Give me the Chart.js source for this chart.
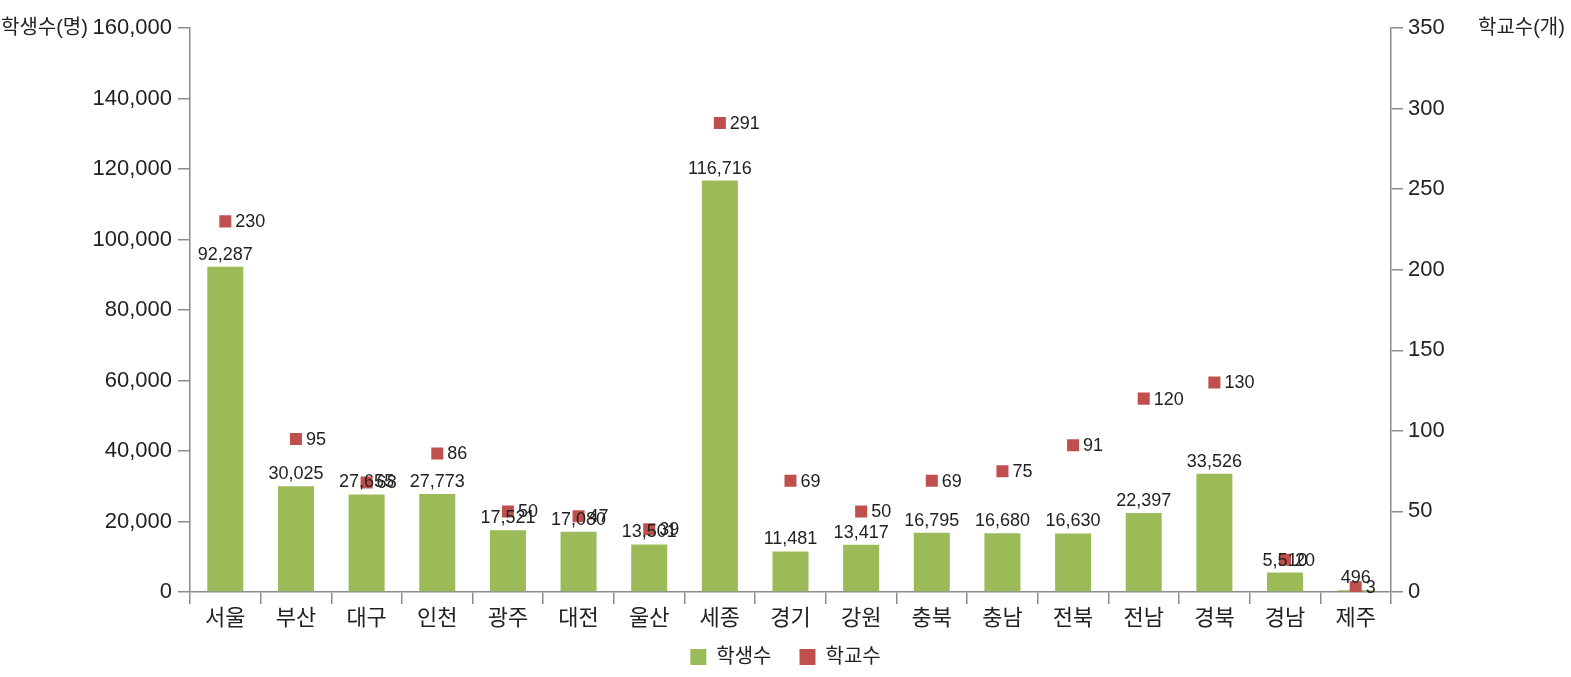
<!DOCTYPE html>
<html>
<head>
<meta charset="utf-8">
<script src="https://cdn.jsdelivr.net/npm/chart.js@4.4.1/dist/chart.umd.min.js"></script>
<style>
  html, body { margin: 0; background: #fff; }
  #wrap { width: 1571px; height: 677px; }
</style>
</head>
<body>
<div id="wrap"><canvas id="chart"></canvas></div>
<script>
const regions = ['서울', '부산', '대구', '인천', '광주', '대전', '울산', '세종', '경기', '강원', '충북', '충남', '전북', '전남', '경북', '경남', '제주'];
const students = [92287, 30025, 27655, 27773, 17521, 17080, 13501, 116716, 11481, 13417, 16795, 16680, 16630, 22397, 33526, 5510, 496];
const schools = [230, 95, 68, 86, 50, 47, 39, 291, 69, 50, 69, 75, 91, 120, 130, 20, 3];

const FONT = "'Liberation Sans', 'Noto Sans CJK KR', sans-serif";
const AXIS = '#8c8c8c';
const TEXT = '#222';

const labelPlugin = {
  id: 'labels',
  afterDatasetsDraw(chart) {
    const ctx = chart.ctx;
    ctx.save();
    ctx.fillStyle = TEXT;
    ctx.font = '18px ' + FONT;

    // 학생수 labels above the bars
    ctx.textAlign = 'center';
    ctx.textBaseline = 'bottom';
    chart.getDatasetMeta(0).data.forEach((bar, i) => {
      ctx.fillText(students[i].toLocaleString('en-US'), bar.x, bar.y - 3);
    });

    // 학교수 labels right of the squares
    ctx.textAlign = 'left';
    ctx.textBaseline = 'middle';
    chart.getDatasetMeta(1).data.forEach((pt, i) => {
      ctx.fillText(String(schools[i]), pt.x + 10, pt.y + 1);
    });

    // axis titles
    const y = chart.scales.y, y1 = chart.scales.y1;
    ctx.font = '20px ' + FONT;
    ctx.fillText('학생수(명)', 1, y.top);
    ctx.fillText('학교수(개)', y1.left + 87, y1.top);
    ctx.restore();
  }
};

new Chart(document.getElementById('chart'), {
  data: {
    labels: regions,
    datasets: [
      {
        type: 'bar',
        label: '학생수',
        data: students,
        yAxisID: 'y',
        backgroundColor: '#9bbb59',
        categoryPercentage: 1,
        barPercentage: 0.51,
        order: 2
      },
      {
        type: 'line',
        label: '학교수',
        data: schools,
        yAxisID: 'y1',
        showLine: false,
        pointStyle: 'rect',
        pointRadius: 8.5,
        pointHoverRadius: 8.5,
        backgroundColor: '#c0504d',
        borderColor: '#c0504d',
        borderWidth: 0,
        order: 1
      }
    ]
  },
  options: {
    responsive: true,
    maintainAspectRatio: false,
    animation: false,
    locale: 'en-US',
    layout: { padding: { top: 28, bottom: 0, left: 0, right: 0 } },
    plugins: {
      tooltip: { enabled: false },
      legend: {
        position: 'bottom',
        labels: {
          color: TEXT,
          font: { family: FONT, size: 20 },
          boxWidth: 16,
          boxHeight: 16,
          padding: 3,
          sort: (a, b) => a.datasetIndex - b.datasetIndex,
          generateLabels(chart) {
            const items = Chart.defaults.plugins.legend.labels.generateLabels(chart);
            // wider gap after the first entry, as in the original
            items.forEach((it) => { if (it.datasetIndex === 0) it.text += '\u2003\u2005'; });
            return items;
          }
        }
      }
    },
    scales: {
      x: {
        offset: true,
        grid: { display: true, drawOnChartArea: false, offset: true, tickLength: 12, color: AXIS, lineWidth: 1.5 },
        border: { color: AXIS, width: 1.5 },
        ticks: { color: TEXT, font: { family: FONT, size: 22 }, padding: 2, maxRotation: 0 },
        afterFit(scale) { scale.height = 52; }
      },
      y: {
        position: 'left',
        min: 0,
        max: 160000,
        ticks: { stepSize: 20000, color: TEXT, font: { family: FONT, size: 22 }, padding: 6 },
        grid: { display: true, drawOnChartArea: false, tickLength: 12, color: AXIS, lineWidth: 1.5 },
        border: { color: AXIS, width: 1.5 },
        afterFit(scale) { scale.width = 190; }
      },
      y1: {
        position: 'right',
        min: 0,
        max: 350,
        ticks: { stepSize: 50, color: TEXT, font: { family: FONT, size: 22 }, padding: 5 },
        grid: { display: true, drawOnChartArea: false, tickLength: 12, color: AXIS, lineWidth: 1.5 },
        border: { color: AXIS, width: 1.5 },
        afterFit(scale) { scale.width = 180; }
      }
    }
  },
  plugins: [labelPlugin]
});
</script>
</body>
</html>
